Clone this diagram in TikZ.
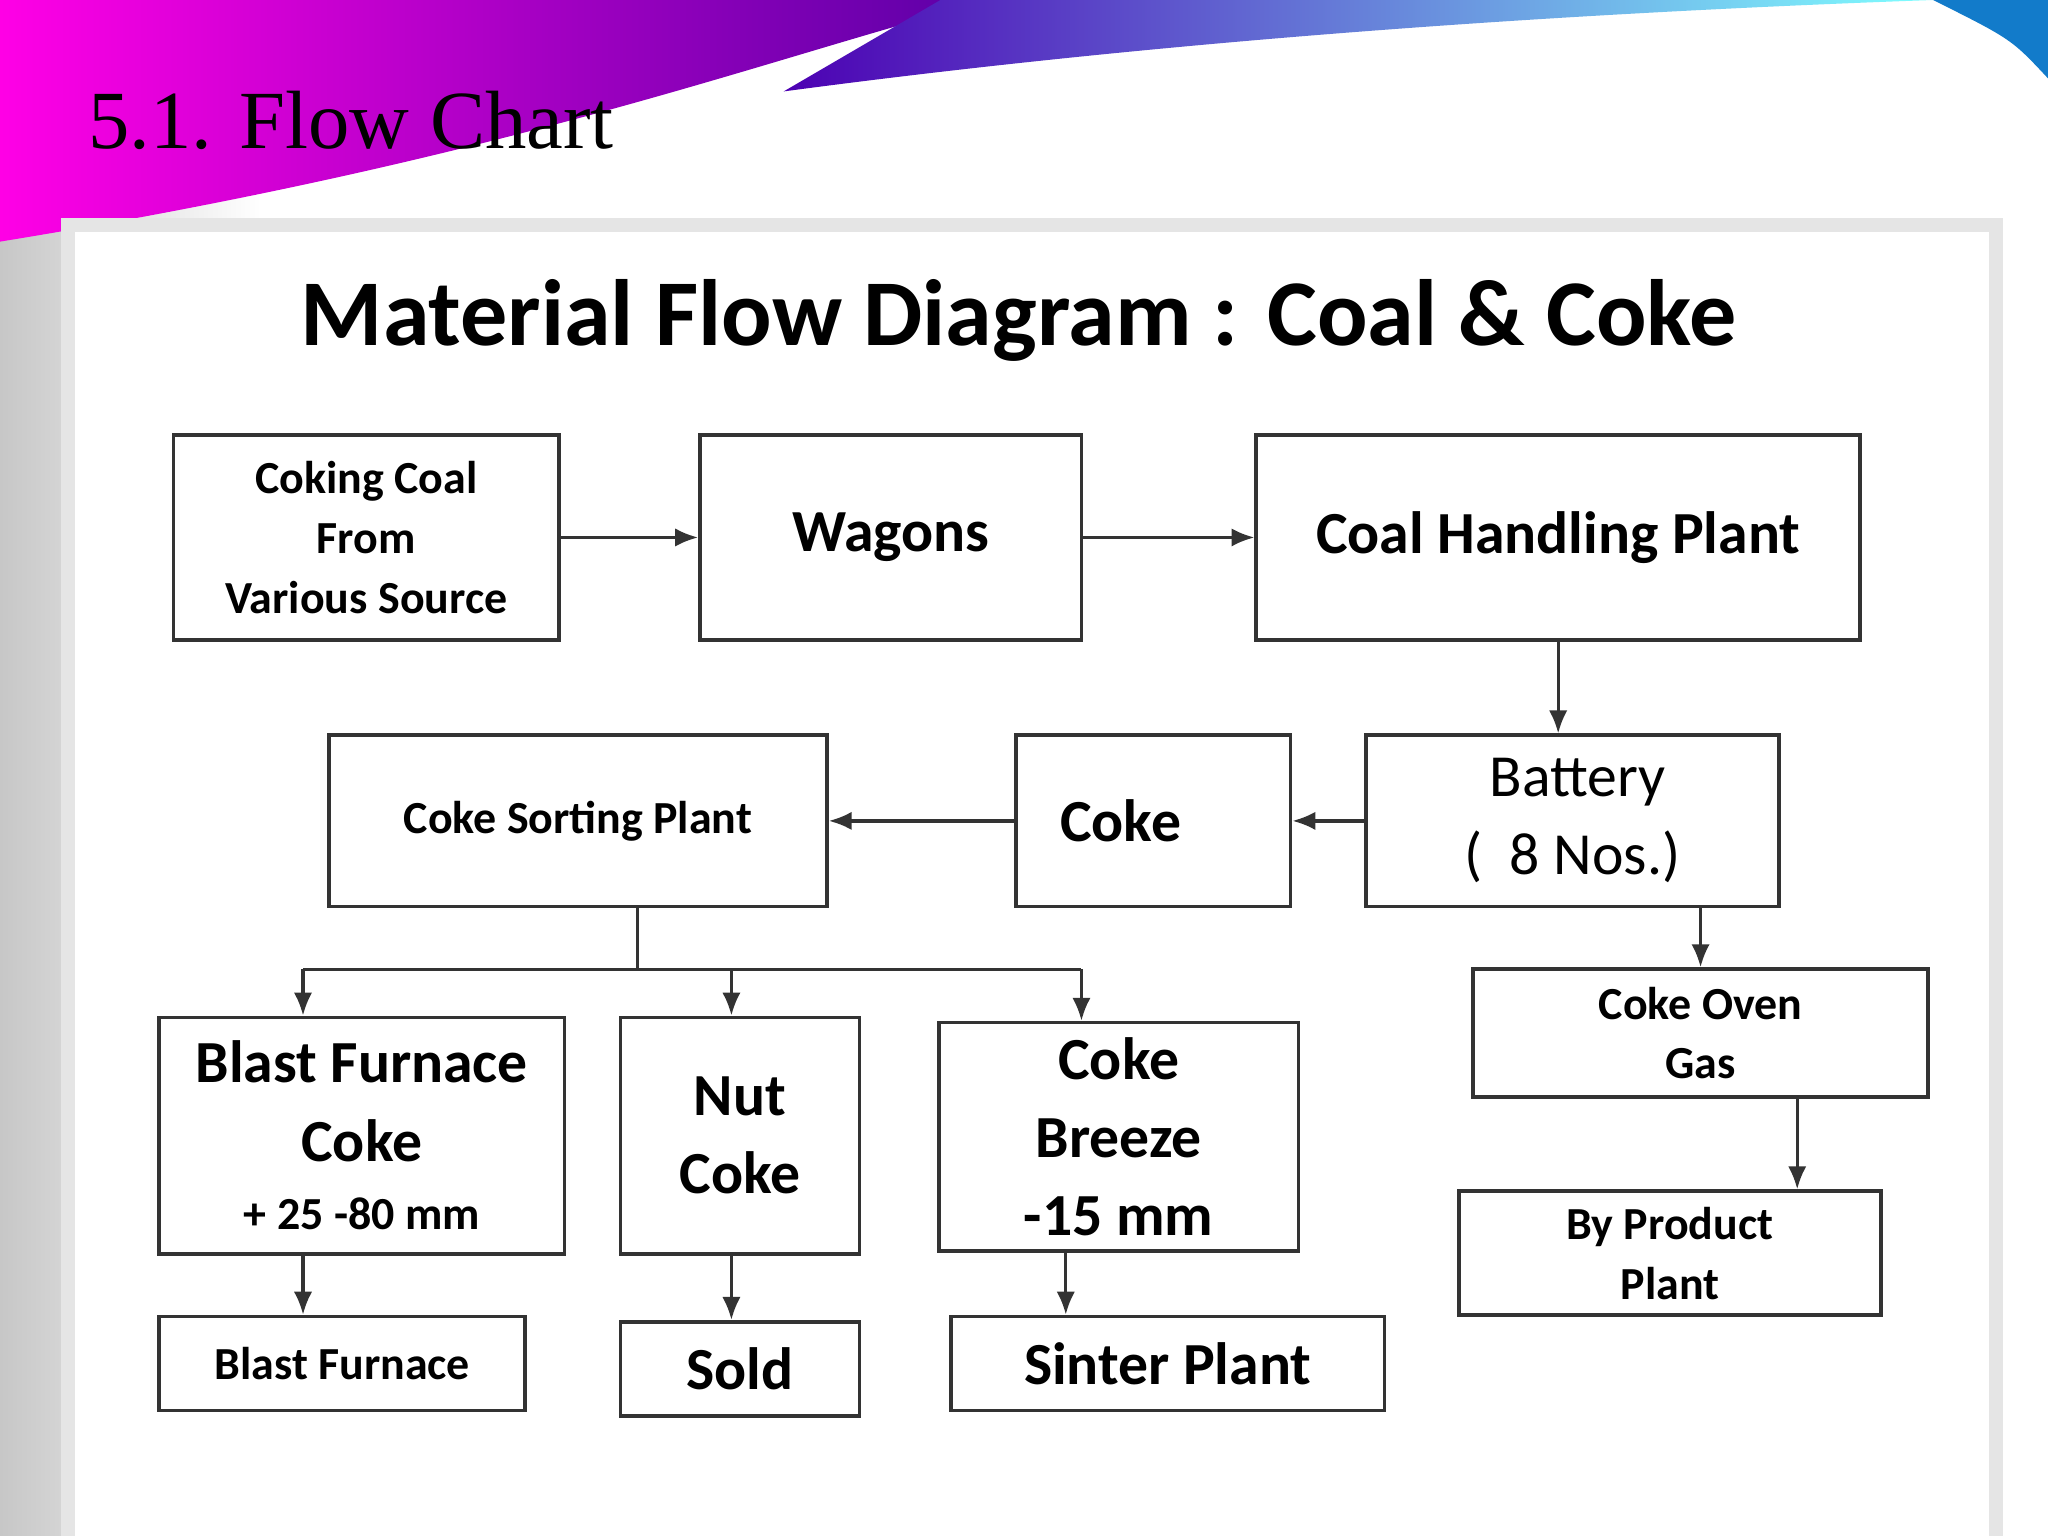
\documentclass[tikz,border=0pt]{standalone}
\usepackage{fontspec}
\setmainfont{Carlito}
\newfontfamily\serifhead{Liberation Serif}
\usetikzlibrary{arrows.meta}
\begin{document}
\begin{tikzpicture}[x=0.01cm,y=-0.01cm,
  box/.style={draw=black!80, line width=0.8pt, align=center, inner sep=0pt, font=\bfseries},
  arr/.style={draw=black!80, line width=0.7pt, -{Latex[length=5pt,width=4pt]}},
  ln/.style={draw=black!80, line width=0.7pt}]
% background
\useasboundingbox (0,0) rectangle (1568,1176);
\shade[left color=black!22, right color=white] (0,0) rectangle (200,1176);
\fill[white] (200,0) rectangle (1568,1176);
\shade[left color=magenta!90!red, right color=violet!70!blue]
  (0,0) -- (760,0) .. controls (600,40) and (400,120) .. (0,185) -- cycle;
\shade[left color=violet!60!blue, right color=cyan!50]
  (720,0) -- (1480,0) .. controls (1200,10) and (900,30) .. (600,70) -- cycle;
\fill[cyan!60!blue] (1480,0) -- (1568,0) -- (1568,60) .. controls (1540,30) .. (1480,0) -- cycle;
\node[anchor=west, font=\serifhead\fontsize{18}{20}\selectfont] (hd) at (55,92) {5.1. Flow Chart};
\draw[fill=white, draw=black!10, line width=3pt] (52,172) rectangle (1528,1190);
\node[font=\bfseries\fontsize{20.5}{24}\selectfont] (title) at (780,245) {Material Flow Diagram : Coal \& Coke};
% boxes
\node[box, minimum width=2.95cm, minimum height=1.57cm, font=\bfseries\fontsize{10}{13}\selectfont] (coal) at (280.5,411.5) {Coking Coal\\From\\Various Source};
\node[box, minimum width=2.92cm, minimum height=1.57cm, font=\bfseries\fontsize{13}{16}\selectfont] (wag) at (682,411.5) {Wagons};
\node[box, minimum width=4.62cm, minimum height=1.57cm, font=\bfseries\fontsize{13}{16}\selectfont] (chp) at (1193,411.5) {Coal Handling Plant};
\node[box, minimum width=3.16cm, minimum height=1.31cm, font=\fontsize{13}{17}\selectfont] (bat) at (1204,628.5) {\,Battery\\(\ \ 8 Nos.)};
\node[box, minimum width=2.1cm, minimum height=1.31cm, font=\bfseries\fontsize{13}{16}\selectfont] (coke) at (883,628.5) {\hspace*{-0.5cm}Coke};
\node[box, minimum width=3.81cm, minimum height=1.31cm, font=\bfseries\fontsize{10}{13}\selectfont] (csp) at (442.5,628.5) {Coke Sorting Plant};
\node[box, minimum width=3.1cm, minimum height=1.81cm, font=\bfseries\fontsize{13}{17}\selectfont] (bfc) at (277,869.5) {Blast Furnace\\Coke\\[-2pt]{\fontsize{10}{12}\selectfont + 25 -80 mm}};
\node[box, minimum width=1.83cm, minimum height=1.81cm, font=\bfseries\fontsize{13}{17}\selectfont] (nut) at (566.5,869.5) {Nut\\Coke};
\node[box, minimum width=2.75cm, minimum height=1.75cm, font=\bfseries\fontsize{13}{17}\selectfont] (brz) at (856.5,870.5) {Coke\\Breeze\\-15 mm};
\node[box, minimum width=3.48cm, minimum height=0.98cm, font=\bfseries\fontsize{10}{13}\selectfont] (cog) at (1302,791) {Coke Oven\\Gas};
\node[box, minimum width=3.23cm, minimum height=0.95cm, font=\bfseries\fontsize{10}{13}\selectfont] (bpp) at (1278.5,959.5) {By Product\\Plant};
\node[box, minimum width=2.8cm, minimum height=0.72cm, font=\bfseries\fontsize{10}{13}\selectfont] (bf) at (262,1044) {Blast Furnace};
\node[box, minimum width=1.83cm, minimum height=0.72cm, font=\bfseries\fontsize{13}{16}\selectfont] (sold) at (566.5,1048) {Sold};
\node[box, minimum width=3.32cm, minimum height=0.72cm, font=\bfseries\fontsize{13}{16}\selectfont] (sin) at (894,1044) {Sinter Plant};
% connectors
\draw[arr] (coal) -- (wag);
\draw[arr] (wag) -- (chp);
\draw[arr] (chp.south) -- (chp.south |- bat.north);
\draw[arr] (bat) -- (coke);
\draw[arr] (coke) -- (csp);
\coordinate (s0) at (488,694);
\coordinate (s1) at (488,742);
\coordinate (sl) at (232,742);
\coordinate (sm) at (560,742);
\coordinate (sr) at (828,742);
\draw[ln] (s0) -- (s1);
\draw[ln] (sl) -- (sr);
\draw[arr] (sl) -- (sl |- bfc.north);
\draw[arr] (sm) -- (sm |- nut.north);
\draw[arr] (sr) -- (sr |- brz.north);
\coordinate (b1) at (1302,694);
\draw[arr] (b1) -- (b1 |- cog.north);
\coordinate (c1) at (1376,840);
\draw[arr] (c1) -- (c1 |- bpp.north);
\coordinate (f1) at (232,960);
\draw[arr] (f1) -- (f1 |- bf.north);
\draw[arr] (sm |- nut.south) -- (sm |- sold.north);
\coordinate (z1) at (816,958);
\draw[arr] (z1) -- (z1 |- sin.north);
\end{tikzpicture}
\end{document}
